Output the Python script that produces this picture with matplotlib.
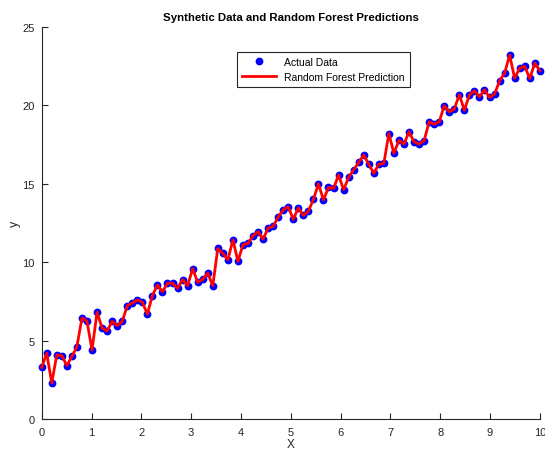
import numpy as np
import matplotlib
matplotlib.use('Agg')
import matplotlib.pyplot as plt

plt.rcParams['font.family'] = ['Liberation Sans', 'DejaVu Sans']

x = np.linspace(0, 10, 100)
y_actual = [3.30, 4.20, 2.31, 4.09, 4.05, 3.41, 4.00, 4.62, 6.45, 6.25,
            4.41, 6.81, 5.81, 5.62, 6.23, 5.96, 6.23, 7.22, 7.40, 7.60,
            7.45, 6.70, 7.87, 8.55, 8.12, 8.65, 8.67, 8.34, 8.89, 8.50,
            9.59, 8.72, 8.91, 9.31, 8.50, 10.88, 10.56, 10.16, 11.43, 10.06,
            11.11, 11.20, 11.69, 11.94, 11.48, 12.18, 12.29, 12.88, 13.34, 13.54,
            12.73, 13.46, 12.99, 13.25, 14.00, 15.00, 13.97, 14.77, 14.70, 15.56,
            14.62, 15.41, 15.89, 16.36, 16.83, 16.25, 15.66, 16.25, 16.30, 18.20,
            16.94, 17.77, 17.53, 18.31, 17.68, 17.53, 17.74, 18.95, 18.80, 18.95,
            19.97, 19.59, 19.76, 20.67, 19.69, 20.65, 20.92, 20.54, 20.99, 20.50,
            20.71, 21.56, 22.05, 23.20, 21.73, 22.37, 22.48, 21.71, 22.69, 22.20]
y_pred = list(y_actual)

fig = plt.figure(figsize=(5.45, 4.52), dpi=100)
ax = fig.add_axes([0.0765, 0.0704, 0.914, 0.868])

ax.plot(x, y_actual, 'o', color='blue', markersize=4.6, label='Actual Data',
        clip_on=False, zorder=3)
ax.plot(x, y_pred, '-', color='red', linewidth=2, label='Random Forest Prediction',
        clip_on=False, zorder=4)

ax.set_xlim(0, 10)
ax.set_ylim(0, 25)
ax.set_xticks(range(0, 11))
ax.set_yticks(range(0, 26, 5))

for s in ['top', 'right']:
    ax.spines[s].set_visible(False)
for s in ['left', 'bottom']:
    ax.spines[s].set_color('#262626')
    ax.spines[s].set_linewidth(0.8)
ax.tick_params(direction='in', length=4, width=0.8, colors='#262626', labelsize=8)
ax.tick_params(axis='x', pad=5.5)
ax.tick_params(axis='y', pad=5)

ax.set_title('Synthetic Data and Random Forest Predictions', fontsize=8.2,
             fontweight='bold', pad=5)
ax.set_xlabel('X', fontsize=8.5, color='#262626', labelpad=1)
ax.set_ylabel('y', fontsize=9, color='#262626', labelpad=1)

leg = ax.legend(loc='upper left', bbox_to_anchor=(0.382, 0.95), fontsize=7.5,
                fancybox=False, framealpha=1, borderpad=0.5, handlelength=3.2,
                labelspacing=0.45)
leg.get_frame().set_edgecolor('#262626')
leg.get_frame().set_linewidth(0.8)

fig.savefig('out.png', dpi=100)
